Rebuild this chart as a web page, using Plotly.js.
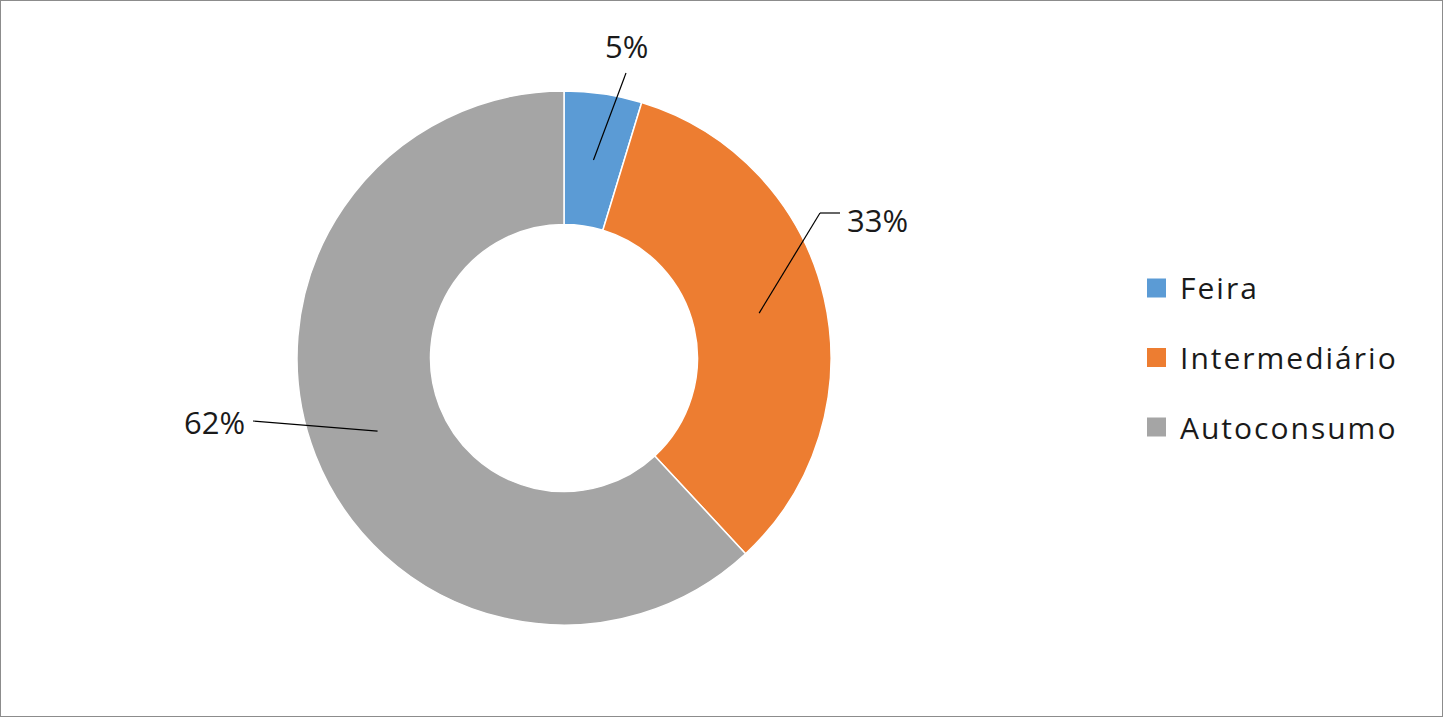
<!DOCTYPE html>
<html><head><meta charset="utf-8">
<script src="https://cdn.plot.ly/plotly-3.0.1.min.js"></script>
<style>
html,body{margin:0;padding:0;background:#fff;}
#wrap{position:relative;width:1443px;height:717px;}
#chart{width:1443px;height:717px;}
#frame{position:absolute;left:0;top:0;width:1443px;height:717px;box-sizing:border-box;border:1px solid #8c8c8c;pointer-events:none;}
g.annotation[data-index="3"] text, g.annotation[data-index="4"] text, g.annotation[data-index="5"] text{letter-spacing:2px;}
</style></head>
<body><div id="wrap"><div id="chart"></div><div id="frame"></div></div>
<script>
// Data
var categories = ['Feira', 'Intermediário', 'Autoconsumo'];
var shares = [4.7, 33.4, 61.9];
var colors = ['#5B9BD5', '#ED7D31', '#A5A5A5'];

// Styling / layout (pixels)
var W = 1443, H = 717;
var cx = 564, cy = 358, rOut = 267, holeFrac = 0.5;
var rMid = rOut * (1 + holeFrac) / 2;
// leader-line end points, optional elbow ends, and label centers
var lineEnd = [[626, 73], [820, 213], [253, 421]];
var elbowEnd = [null, [840, 213], null];
var labelCenter = [[626, 46], [878, 220], [214, 422]];
var legLetterSpacing = 2;

function px2x(p){ return p / W; }
function py2y(p){ return 1 - p / H; }

var total = shares.reduce(function(a,b){return a+b;}, 0);
var shapes = [], annotations = [];
var cum = 0;
for (var i = 0; i < shares.length; i++) {
  var mid = (cum + shares[i] / 2) / total * 2 * Math.PI;
  cum += shares[i];
  var hx = cx + rMid * Math.sin(mid), hy = cy - rMid * Math.cos(mid);
  shapes.push({type:'line', xref:'paper', yref:'paper',
    x0: px2x(hx), y0: py2y(hy), x1: px2x(lineEnd[i][0]), y1: py2y(lineEnd[i][1]),
    line:{color:'#000', width:1.2}});
  if (elbowEnd[i]) {
    shapes.push({type:'line', xref:'paper', yref:'paper',
      x0: px2x(lineEnd[i][0]), y0: py2y(lineEnd[i][1]), x1: px2x(elbowEnd[i][0]), y1: py2y(elbowEnd[i][1]),
      line:{color:'#000', width:1.2}});
  }
  annotations.push({xref:'paper', yref:'paper', x: px2x(labelCenter[i][0]), y: py2y(labelCenter[i][1]),
    xanchor:'center', yanchor:'middle', showarrow:false,
    text: Math.round(shares[i] / total * 100) + '%',
    font:{family:'Open Sans, DejaVu Sans, sans-serif', size:31, color:'#1a1a1a'}});
}

// custom legend
var legX = 1147, legSq = 19, legTextX = 1178, legY0 = 288, legGap = 69.5;
for (var j = 0; j < categories.length; j++) {
  var ly = legY0 + j * legGap;
  shapes.push({type:'rect', xref:'paper', yref:'paper',
    x0: px2x(legX), x1: px2x(legX + legSq), y0: py2y(ly - legSq/2), y1: py2y(ly + legSq/2),
    fillcolor: colors[j], line:{width:0}});
  annotations.push({xref:'paper', yref:'paper', x: px2x(legTextX), y: py2y(ly),
    xanchor:'left', yanchor:'middle', showarrow:false, text: categories[j],
    xshift: categories[j].length * legLetterSpacing / 2,
    font:{family:'Open Sans, DejaVu Sans, sans-serif', size:30, color:'#1a1a1a'}});
}

var trace = {
  type:'pie', values: shares, labels: categories, sort:false, direction:'clockwise', rotation:0,
  hole: holeFrac, textinfo:'none', hoverinfo:'label+percent',
  marker:{colors: colors, line:{color:'#ffffff', width:1.5}},
  domain:{x:[(cx - rOut)/W, (cx + rOut)/W], y:[1 - (cy + rOut)/H, 1 - (cy - rOut)/H]}
};

Plotly.newPlot('chart', [trace], {
  width: W, height: H, margin:{l:0, r:0, t:0, b:0},
  paper_bgcolor:'#fff', plot_bgcolor:'#fff', showlegend:false,
  shapes: shapes, annotations: annotations
}, {displayModeBar:false, staticPlot:true});
</script></body></html>
